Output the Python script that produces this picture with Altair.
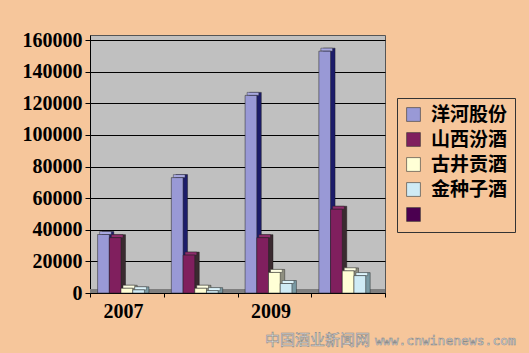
import altair as alt
import pandas as pd

years = ["2007", "2008", "2009", "2010"]
series = ["洋河股份", "山西汾酒", "古井贡酒", "金种子酒", "其他"]
yanghe = [37000, 73000, 125000, 153000]
fenjiu = [35000, 24000, 35000, 53000]
gujing = [3000, 3000, 13000, 14000]
jinzhongzi = [2000, 1500, 6000, 11000]
y_ticks = [0, 20000, 40000, 60000, 80000, 100000, 120000, 140000, 160000]

front_colors = ["#9999D6", "#801F5E", "#FFFFD6", "#CFEBF5", "#4B0050"]
top_colors = ["#A8A8E0", "#8F2D6C", "#FFFFE4", "#DCF3FA", "#5A1060"]
side_colors = ["#1C1C6A", "#3A2A30", "#8F8F80", "#7A9AA4", "#300030"]

rows = []
for s, vals in zip(series[:4], [yanghe, fenjiu, gujing, jinzhongzi]):
    for y, v in zip(years, vals):
        rows.append({"year": y, "series": s, "value": v})
df = pd.DataFrame(rows)

W, H = 295, 258
BAND = W / len(years)

x_enc = alt.X("year:N", sort=years,
              scale=alt.Scale(paddingInner=0, paddingOuter=0),
              axis=alt.Axis(title=None, labelAngle=0, domainColor="black", tickColor="black",
                            tickBand="extent", tickSize=4, labelOffset=-4,
                            labelFont="Liberation Serif", labelFontSize=20, labelFontWeight="bold",
                            labelColor="black", labelPadding=4,
                            labelExpr="(datum.value == '2008' || datum.value == '2010') ? '' : datum.label"))


def xo(shift):
    return alt.XOffset("series:N", scale=alt.Scale(domain=series, range=[shift, BAND + shift],
                                                   paddingInner=0, paddingOuter=0.65))


y_scale = alt.Scale(domain=[0, 163200], nice=False)
y_axis = alt.Axis(title=None, values=y_ticks, grid=True, gridColor="black", gridWidth=1,
                  domainColor="black", tickColor="black", tickSize=5, format="d",
                  labelOverlap=False,
                  labelFont="Liberation Serif", labelFontSize=20, labelFontWeight="bold",
                  labelColor="black", labelPadding=3)
base = alt.Chart(df)

side = base.mark_bar(yOffset=-3, stroke="#111", strokeWidth=0.4).encode(
    x=x_enc, xOffset=xo(4.5),
    y=alt.Y("value:Q", scale=y_scale, stack=None, axis=y_axis),
    color=alt.Color("series:N", scale=alt.Scale(domain=series, range=side_colors), legend=None),
)

top = base.mark_bar(yOffset=-3, stroke="#222", strokeWidth=0.4).encode(
    x=x_enc, xOffset=xo(2),
    y=alt.Y("value:Q", scale=y_scale, stack=None, axis=y_axis),
    y2="value:Q",
    color=alt.Color("series:N", scale=alt.Scale(domain=series, range=top_colors), legend=None),
)

front = base.mark_bar(stroke="#222", strokeWidth=0.5).encode(
    x=x_enc, xOffset=xo(0),
    y=alt.Y("value:Q", scale=y_scale, stack=None, axis=y_axis),
    color=alt.Color("series:N", scale=alt.Scale(domain=series, range=front_colors),
                    legend=alt.Legend(title=None, orient="none", legendX=307, legendY=63,
                                      symbolType="square", symbolSize=190, symbolStrokeColor="#333",
                                      symbolStrokeWidth=0.6,
                                      labelFont="Noto Sans CJK SC", labelFontSize=19,
                                      labelFontWeight="bold", labelColor="black", labelOffset=8,
                                      rowPadding=5, padding=7, strokeColor="#333",
                                      labelExpr="datum.label == '其他' ? '' : datum.label")),
)

floor = alt.Chart(pd.DataFrame({"a": [0]})).mark_rect(color="#7F7F7F").encode(
    x=alt.value(0), x2=alt.value(W),
    y=alt.datum(0, scale=y_scale, axis=y_axis), y2=alt.datum(2500),
)

wm1 = alt.Chart(pd.DataFrame({"t": ["中国酒业新闻网"]})).mark_text(
    font="Noto Sans CJK SC", fontSize=15, align="left", baseline="middle",
    fill="#F0F0F0", stroke="#8A8A8A", strokeWidth=0.6).encode(
    x=alt.value(175), y=alt.value(305), text="t:N")
wm2 = alt.Chart(pd.DataFrame({"t": ["www.cnwinenews.com"]})).mark_text(
    font="DejaVu Sans Mono", fontSize=13, align="left", baseline="middle",
    fill="#F0F0F0", stroke="#8A8A8A", strokeWidth=0.6).encode(
    x=alt.value(285), y=alt.value(306), text="t:N")

chart = alt.layer(floor, side, top, front, wm1, wm2).resolve_scale(
    color="independent", xOffset="independent").properties(
    width=W, height=H,
    background="#F6C69B",
    autosize=alt.AutoSizeParams(type="none"),
    padding={"left": 90, "top": 35, "right": 144, "bottom": 60},
).configure_view(fill="#C0C0C0", stroke="#555")

chart.save("out.html", embed_options={"renderer": "svg", "actions": False})
